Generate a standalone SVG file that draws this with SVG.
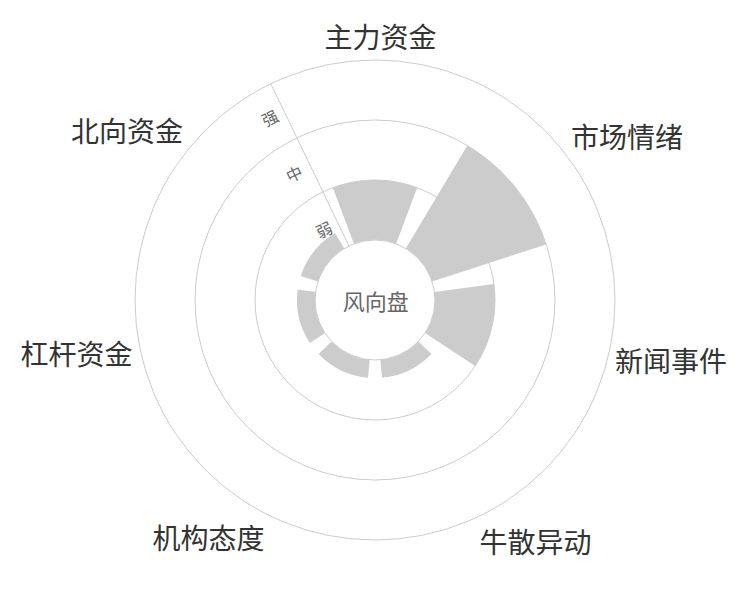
<svg xmlns="http://www.w3.org/2000/svg" width="750" height="600" viewBox="0 0 750 600">
<style>
.ring{fill:none;stroke:#cccccc;stroke-width:1}
.axis{stroke:#cccccc;stroke-width:1;fill:none}
.bar{fill:#cccccc;stroke:none}
.cat{font-family:"Noto Sans CJK SC","Noto Sans",sans-serif;font-size:28px;fill:#333333;text-anchor:middle}
.lvl{font-family:"Noto Sans CJK SC","Noto Sans",sans-serif;font-size:16px;fill:#666666;text-anchor:middle}
.title{font-family:"Noto Sans CJK SC","Noto Sans",sans-serif;font-size:22px;fill:#666666;text-anchor:middle}
</style>
<rect width="750" height="600" fill="#ffffff"/>
<g id="grid">
<circle class="ring" cx="375" cy="300" r="240"/>
<circle class="ring" cx="375" cy="300" r="180"/>
<circle class="ring" cx="375" cy="300" r="120"/>
<circle class="ring" cx="375" cy="300" r="60"/>
</g>
<g id="connectors">
<line class="axis" x1="348.97" y1="245.94" x2="270.87" y2="83.77"/>
</g>
<g id="levels">
<text class="lvl" transform="translate(324,230) rotate(-25.714)" y="6">弱</text>
<text class="lvl" transform="translate(294.3,174) rotate(-25.714)" y="6">中</text>
<text class="lvl" transform="translate(270,118.3) rotate(-25.714)" y="6">强</text>
</g>
<g id="cat-zhuli">
<path class="bar" d="M 353.92 243.83 L 332.84 187.65 A 120 120 0 0 1 417.16 187.65 L 396.08 243.83 A 60 60 0 0 0 353.92 243.83 Z"/>
<text class="cat" x="380.5" y="48">主力资金</text>
</g>
<g id="cat-qingxu">
<path class="bar" d="M 405.77 248.49 L 467.32 145.48 A 180 180 0 0 1 546.19 244.38 L 432.06 281.46 A 60 60 0 0 0 405.77 248.49 Z"/>
<text class="cat" x="627" y="147.5">市场情绪</text>
</g>
<g id="cat-xinwen">
<path class="bar" d="M 434.46 291.95 L 493.91 283.89 A 120 120 0 0 1 475.15 366.11 L 425.07 333.05 A 60 60 0 0 0 434.46 291.95 Z"/>
<text class="cat" x="671" y="372">新闻事件</text>
</g>
<g id="cat-niusan">
<path class="bar" d="M 418.37 341.46 L 431.38 353.90 A 78 78 0 0 1 381.99 377.69 L 380.38 359.76 A 60 60 0 0 0 418.37 341.46 Z"/>
<text class="cat" x="535.5" y="552.5">牛散异动</text>
</g>
<g id="cat-jigou">
<path class="bar" d="M 369.62 359.76 L 368.01 377.69 A 78 78 0 0 1 318.62 353.90 L 331.63 341.46 A 60 60 0 0 0 369.62 359.76 Z"/>
<text class="cat" x="208.5" y="548.5">机构态度</text>
</g>
<g id="cat-ganggan">
<path class="bar" d="M 324.93 333.05 L 309.90 342.97 A 78 78 0 0 1 297.71 289.53 L 315.54 291.95 A 60 60 0 0 0 324.93 333.05 Z"/>
<text class="cat" x="76.5" y="365">杠杆资金</text>
</g>
<g id="cat-beixiang">
<path class="bar" d="M 317.94 281.46 L 300.82 275.90 A 78 78 0 0 1 334.99 233.04 L 344.23 248.49 A 60 60 0 0 0 317.94 281.46 Z"/>
<text class="cat" x="127" y="142">北向资金</text>
</g>
<g id="center">
<text class="title" x="375.8" y="310">风向盘</text>
</g>
</svg>
